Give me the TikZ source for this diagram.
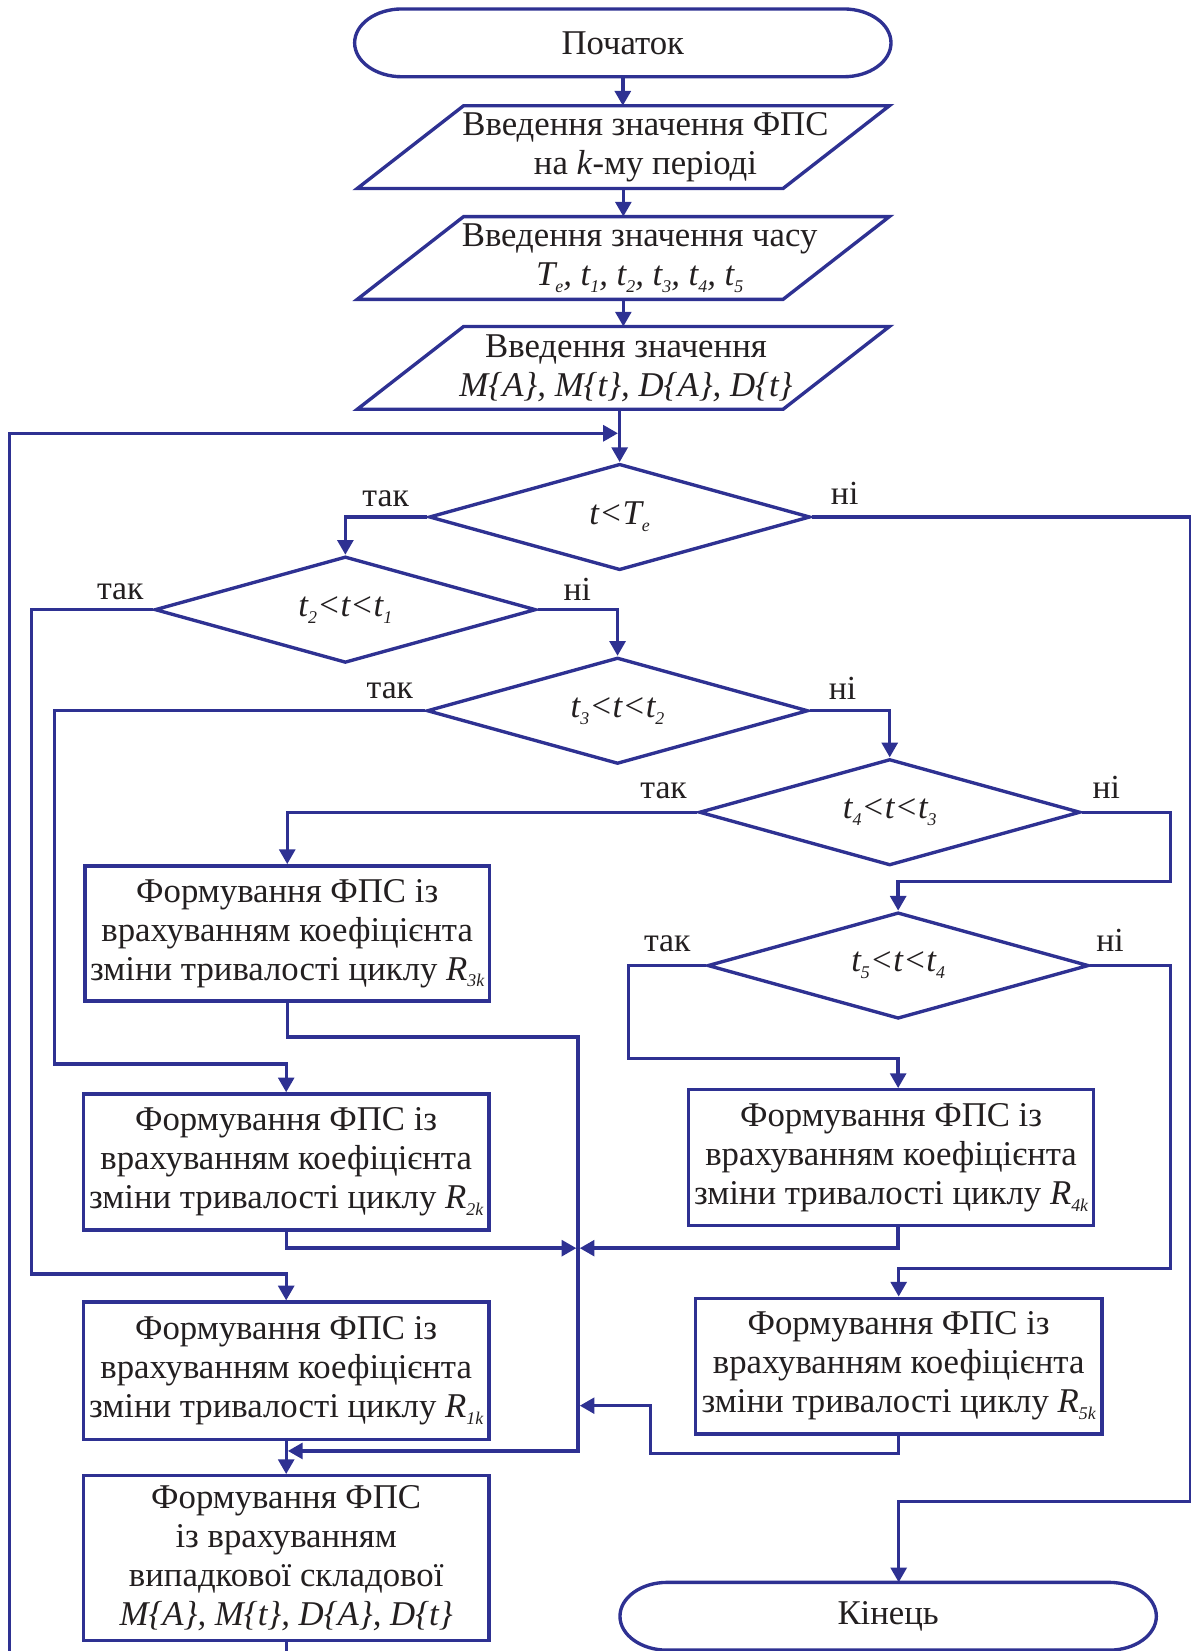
\documentclass[tikz,border=0pt]{standalone}
\usepackage{fontspec}
\setmainfont{Liberation Serif}
\usetikzlibrary{arrows.meta,shapes.geometric,calc}
\definecolor{lineblue}{RGB}{46,49,146}
\definecolor{ink}{RGB}{35,31,32}
% italic lowered index
\newcommand\isub[1]{\raisebox{-0.2em}{\fontsize{17}{17}\selectfont\itshape #1}}
\newcommand\boxfont{\fontsize{33}{37}\selectfont}
\newcommand\condfont{\fontsize{33}{37}\selectfont\itshape}
\newcommand\lblfont{\fontsize{32}{37}\selectfont}

\begin{document}
\begin{tikzpicture}[x=1pt,y=-1pt,
  shapeline/.style={draw=lineblue, line width=3.2pt},
  flow/.style={draw=lineblue, line width=3.2pt, -{Triangle[length=14pt,width=15pt]}},
  termbox/.style={minimum width=509pt, minimum height=64pt, inner sep=0pt, font=\boxfont, text=ink},
  iobox/.style={minimum width=404pt, minimum height=78.2pt, inner sep=0pt},
  iotext/.style={align=center, inner sep=0pt, font=\boxfont, text=ink},
  procbox/.style={shapeline, rectangle, inner sep=0pt, align=center, font=\boxfont, text=ink},
  cond/.style={shapeline, diamond, aspect=3.6, minimum width=362pt, minimum height=101pt, inner sep=0pt, font=\condfont, text=ink},
  lbl/.style={anchor=base west, inner sep=0pt, font=\lblfont, text=ink}
]
\useasboundingbox (0,0) rectangle (1131,1568);
\clip (0,0) rectangle (1131,1568);

% terminals
\node[termbox] (start) at (591.5,40.7) {Початок};
\node[termbox] (finish) at (843.5,1535) {Кінець};
\foreach \t in {start,finish}{
  \draw[shapeline] ([xshift=45pt]\t.north west) -- ([xshift=-45pt]\t.north east)
    .. controls ([xshift=-20pt]\t.north east) and ([yshift=17.7pt]\t.east) .. (\t.east)
    .. controls ([yshift=-17.7pt]\t.east) and ([xshift=-20pt]\t.south east) .. ([xshift=-45pt]\t.south east)
    -- ([xshift=45pt]\t.south west)
    .. controls ([xshift=20pt]\t.south west) and ([yshift=-17.7pt]\t.west) .. (\t.west)
    .. controls ([yshift=17.7pt]\t.west) and ([xshift=20pt]\t.north west) .. ([xshift=45pt]\t.north west)
    -- cycle;
}

% input blocks
\node[iobox] (p1) at (592,139.7) {};
\node[iobox] (p2) at (592,245) {};
\node[iobox] (p3) at (592,349.4) {};
\foreach \p in {p1,p2,p3}{
  \draw[shapeline] ([xshift=50.5pt]\p.north west) -- ([xshift=50.5pt]\p.north east)
    -- ([xshift=-50.5pt]\p.south east) -- ([xshift=-50.5pt]\p.south west) -- cycle;
}
\node[iotext] (p1t) at (613,139.5) {Введення значення ФПС\\на \textit{k}-му періоді};
\node[iotext] (p2t) at (607.5,245) {Введення значення часу\\\textit{T\isub{e}, t\isub{1}, t\isub{2}, t\isub{3}, t\isub{4}, t\isub{5}}};
\node[iotext] (p3t) at (594.5,349.4) {Введення значення\\\textit{M\{A\}, M\{t\}, D\{A\}, D\{t\}}};

% decisions
\node[cond] (d1) at (588.5,491) {t<T\isub{e}};
\node[cond] (d2) at (328,579) {t\isub{2}<t<t\isub{1}};
\node[cond] (d3) at (586.5,675) {t\isub{3}<t<t\isub{2}};
\node[cond] (d4) at (845,771.4) {t\isub{4}<t<t\isub{3}};
\node[cond] (d5) at (853,917) {t\isub{5}<t<t\isub{4}};

% branch labels
\node[lbl] (y1) at (344,481) {так};
\node[lbl] (n1) at (789,479.6) {ні};
\node[lbl] (y2) at (92,569) {так};
\node[lbl] (n2) at (535,570) {ні};
\node[lbl] (y3) at (348,663) {так};
\node[lbl] (n3) at (787,664) {ні};
\node[lbl] (y4) at (608,758.7) {так};
\node[lbl] (n4) at (1037.5,758.7) {ні};
\node[lbl] (y5) at (611.5,903.7) {так};
\node[lbl] (n5) at (1041,903.7) {ні};

% processing blocks
\node[procbox, minimum width=384.3pt, minimum height=128.2pt] (r3) at (272.8,886.4)
  {Формування ФПС із\\врахуванням коефіцієнта\\зміни тривалості циклу \textit{R}\isub{3k}};
\node[procbox, minimum width=385pt, minimum height=129pt] (r2) at (271.8,1103.5)
  {Формування ФПС із\\врахуванням коефіцієнта\\зміни тривалості циклу \textit{R}\isub{2k}};
\node[procbox, minimum width=385pt, minimum height=130.7pt] (r1) at (271.8,1302)
  {Формування ФПС із\\врахуванням коефіцієнта\\зміни тривалості циклу \textit{R}\isub{1k}};
\node[procbox, minimum width=385pt, minimum height=156.4pt] (final) at (271.8,1479.8)
  {Формування ФПС\\із врахуванням\\випадкової складової\\\textit{M\{A\}, M\{t\}, D\{A\}, D\{t\}}};
\node[procbox, minimum width=384.6pt, minimum height=129pt] (r4) at (846.3,1099.5)
  {Формування ФПС із\\врахуванням коефіцієнта\\зміни тривалості циклу \textit{R}\isub{4k}};
\node[procbox, minimum width=386pt, minimum height=129pt] (r5) at (853.5,1297.5)
  {Формування ФПС із\\врахуванням коефіцієнта\\зміни тривалості циклу \textit{R}\isub{5k}};

% routing points
\coordinate (jin) at (586.9,411.5);
\coordinate (loopcorner) at (9,1600);
\coordinate (endcorner) at (1131,1426);
\coordinate (c2) at (30,1210);
\coordinate (c3) at (51.5,1010.5);
\coordinate (c4) at (1111.5,837);
\coordinate (c5) at (597,1005);
\coordinate (c6) at (1111.5,1205);
\coordinate (c7) at (618,1380.7);
\coordinate (m1) at (549,985);
\coordinate (m2) at (549,1378);
\coordinate (m3) at (549,1185.4);
\coordinate (m4) at (549,1335);

% connectors
\draw[flow] (start.south) -- (start.south |- p1.north);
\draw[flow] (p1.south) -- (p2.north);
\draw[flow] (p2.south) -- (p3.north);
\draw[flow] (p3.south -| d1.north) -- (d1.north);
\draw[flow] (final.south) |- (loopcorner) |- (jin);
\draw[flow] (d1.west) -| (d2.north);
\draw[flow] (d1.east) -| (endcorner) -| (r5.south |- finish.north);
\draw[flow] (d2.west) -| (c2) -| (r1.north);
\draw[flow] (d2.east) -| (d3.north);
\draw[flow] (d3.west) -| (c3) -| (r2.north);
\draw[flow] (d3.east) -| (d4.north);
\draw[flow] (d4.west) -| (r3.north);
\draw[flow] (d4.east) -| (c4) -| (d5.north);
\draw[flow] (d5.west) -| (c5) -| (d5.south |- r4.north);
\draw[flow] (d5.east) -| (c6) -| (r5.north);
\draw[flow] (r3.south) |- (m1) -- (m2) -- ($(r1.south |- m2)+(1.6,0)$);
\draw[flow] (r2.south) |- ($(m3)+(-1.6,0)$);
\draw[flow] (d5.south |- r4.south) |- ($(m3)+(1.6,0)$);
\draw[flow] (r5.south) |- (c7) |- ($(m4)+(1.6,0)$);
\draw[flow] (r1.south) -- (final.north);
\end{tikzpicture}
\end{document}
